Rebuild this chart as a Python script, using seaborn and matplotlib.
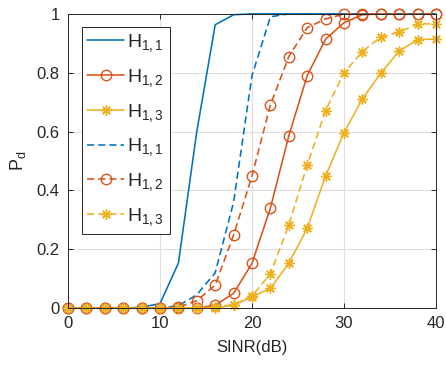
import numpy as np
import pandas as pd
import matplotlib
matplotlib.use("Agg")
import matplotlib.pyplot as plt
import seaborn as sns

# SINR axis (dB)
sinr = [0, 2, 4, 6, 8, 10, 12, 14, 16, 18, 20, 22, 24, 26, 28, 30, 32, 34, 36, 38, 40]

# detection probability, solid curves
h11 = [0, 0, 0, 0, 0.003, 0.015, 0.153, 0.60, 0.963, 0.997, 1, 1, 1, 1, 1, 1, 1, 1, 1, 1, 1]
h12 = [0, 0, 0, 0, 0, 0, 0, 0, 0.01, 0.05, 0.152, 0.34, 0.585, 0.79, 0.914, 0.97, 0.997, 1, 1, 1, 1]
h13 = [0, 0, 0, 0, 0, 0, 0, 0, 0, 0.01, 0.038, 0.067, 0.152, 0.271, 0.449, 0.596, 0.711, 0.798, 0.874, 0.912, 0.915]

# detection probability, dashed curves
h11_d = [0, 0, 0, 0, 0, 0, 0.008, 0.045, 0.12, 0.36, 0.79, 0.99, 1, 1, 1, 1, 1, 1, 1, 1, 1]
h12_d = [0, 0, 0, 0, 0, 0, 0.003, 0.025, 0.078, 0.248, 0.449, 0.69, 0.855, 0.953, 0.983, 0.999, 1, 1, 1, 1, 1]
h13_d = [0, 0, 0, 0, 0, 0, 0, 0, 0.003, 0.012, 0.041, 0.117, 0.282, 0.486, 0.671, 0.80, 0.872, 0.921, 0.938, 0.966, 0.966]

labels = [r"$\mathrm{H}_{1,1}$", r"$\mathrm{H}_{1,2}$", r"$\mathrm{H}_{1,3}$"]

sns.set_style("ticks")
plt.rcParams["font.family"] = ["Liberation Sans", "DejaVu Sans"]
plt.rcParams["mathtext.fontset"] = "custom"
plt.rcParams["mathtext.rm"] = "Liberation Sans"
plt.rcParams["mathtext.it"] = "Liberation Sans:italic"

blue = "#0072BD"
orange = "#D95319"
yellow = "#EDB120"
dark = "#262626"
asterisk = (8, 2, 0)

fig = plt.figure(figsize=(4.46, 3.65), dpi=100)
ax = fig.add_axes([0.1525, 0.156, 0.825, 0.806])

series = [
    (h11, blue, "-", None, labels[0]),
    (h12, orange, "-", "o", labels[1]),
    (h13, yellow, "-", asterisk, labels[2]),
    (h11_d, blue, (0, (4.5, 2.5)), None, labels[0]),
    (h12_d, orange, (0, (4.5, 2.5)), "o", labels[1]),
    (h13_d, yellow, (0, (4.5, 2.5)), asterisk, labels[2]),
]

for vals, col, ls, mk, lab in series:
    df = pd.DataFrame({"SINR": sinr, "Pd": vals})
    kws = dict(color=col, linestyle=ls, linewidth=1.15, label=lab, clip_on=False)
    if mk is not None:
        kws.update(marker=mk, markersize=7.5, markerfacecolor="none",
                   markeredgecolor=col, markeredgewidth=1.0)
    sns.lineplot(data=df, x="SINR", y="Pd", ax=ax, **kws)

ax.set_xlim(0, 40)
ax.set_ylim(0, 1)
ax.set_xticks([0, 10, 20, 30, 40])
ax.set_yticks([0, 0.2, 0.4, 0.6, 0.8, 1])
ax.set_yticklabels(["0", "0.2", "0.4", "0.6", "0.8", "1"])
ax.grid(True, color="#dedede", linewidth=0.8)
ax.set_axisbelow(True)
for s in ax.spines.values():
    s.set_color(dark)
    s.set_linewidth(0.7)
    s.set_visible(True)
ax.tick_params(direction="in", length=3.5, width=0.7, colors=dark,
               labelsize=12, top=True, right=True, pad=6)
ax.set_xlabel("SINR(dB)", fontsize=12, color=dark, labelpad=6)
ax.set_ylabel(r"$\mathrm{P}_\mathrm{d}$", fontsize=13, color=dark, labelpad=6)

leg = ax.legend(loc="upper left", bbox_to_anchor=(0.037, 0.957), borderaxespad=0,
                fontsize=14, fancybox=False, framealpha=1, edgecolor=dark,
                handlelength=1.9, handletextpad=0.15, labelspacing=0.66,
                borderpad=0.3)
leg.get_frame().set_linewidth(0.7)

fig.savefig("out.png", dpi=100)
